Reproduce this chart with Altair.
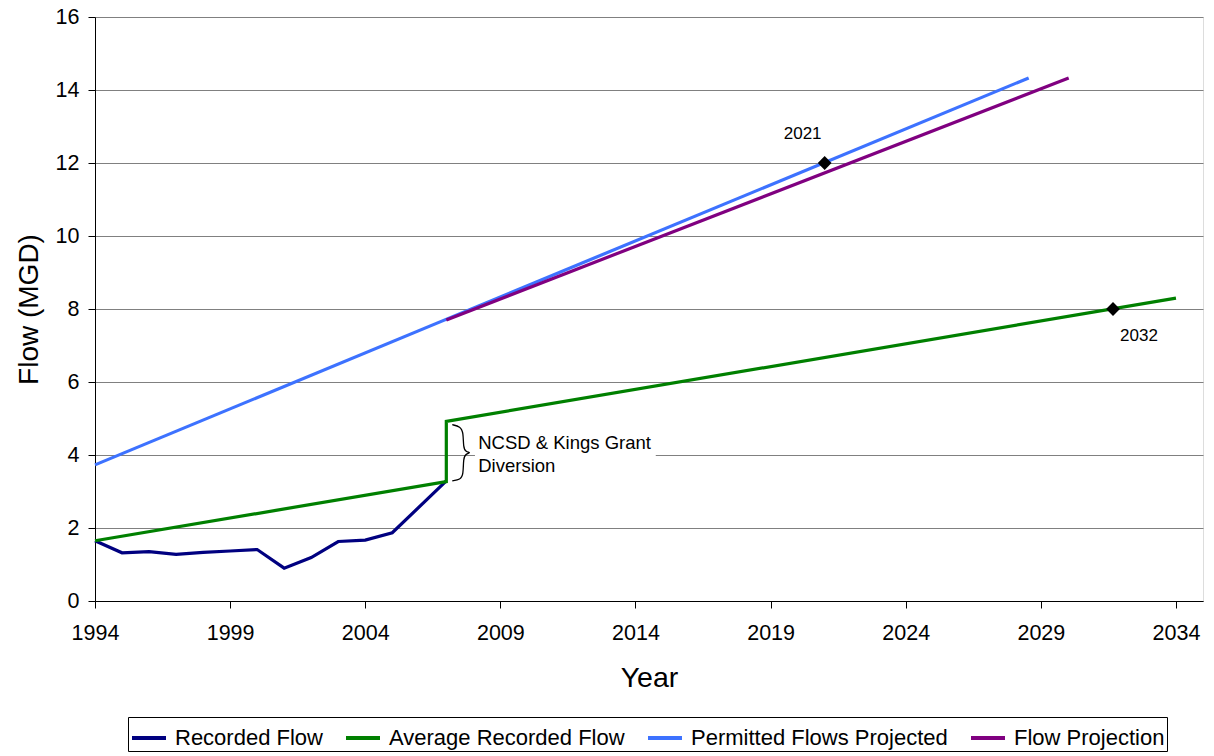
import altair as alt
import pandas as pd

# ---- data ----
rec_years = [1994, 1995, 1996, 1997, 1998, 1999, 2000, 2001, 2002, 2003, 2004, 2005, 2007]
rec_flow = [1.65, 1.32, 1.35, 1.28, 1.33, 1.37, 1.41, 0.90, 1.19, 1.63, 1.67, 1.87, 3.29]

avg_years = [1994, 2007, 2007, 2034]
avg_flow = [1.65, 3.27, 4.92, 8.30]

perm_years = [1994, 2028.55]
perm_flow = [3.73, 14.33]

proj_years = [2007, 2030.03]
proj_flow = [7.70, 14.33]

series_names = ["Recorded Flow", "Average Recorded Flow", "Permitted Flows Projected", "Flow Projection"]
series_colors = ["#000080", "#008000", "#3D72FF", "#800080"]

marker_years = [2021, 2031.67]
marker_flow = [12.0, 8.0]
marker_labels = ["2021", "2032"]
marker_dx = [-22, 26]
marker_dy = [-29, 27]

note_lines = ["NCSD & Kings Grant", "Diversion"]
note_x = [2008.18, 2008.18]
note_y = [4.32, 3.70]

brace_x = [2007.22, 2007.52, 2007.63, 2007.63, 2007.72, 2007.92, 2007.72, 2007.63, 2007.63, 2007.52, 2007.22]
brace_y = [4.83, 4.78, 4.62, 4.20, 4.09, 4.06, 4.03, 3.92, 3.45, 3.33, 3.29]

x_ticks = [1994, 1999, 2004, 2009, 2014, 2019, 2024, 2029, 2034]
y_ticks = [0, 2, 4, 6, 8, 10, 12, 14, 16]

# ---- tables ----
rows = []
for name, xs, ys in [
    (series_names[0], rec_years, rec_flow),
    (series_names[1], avg_years, avg_flow),
    (series_names[2], perm_years, perm_flow),
    (series_names[3], proj_years, proj_flow),
]:
    for i, (xv, yv) in enumerate(zip(xs, ys)):
        rows.append({"series": name, "year": xv, "flow": yv, "idx": i})
lines_df = pd.DataFrame(rows)

markers_df = pd.DataFrame({"year": marker_years, "flow": marker_flow,
                           "label": marker_labels, "dx": marker_dx, "dy": marker_dy})
note_df = pd.DataFrame({"year": note_x, "flow": note_y, "text": note_lines})
brace_df = pd.DataFrame({"year": brace_x, "flow": brace_y, "idx": list(range(len(brace_x)))})
box_df = pd.DataFrame({"x1": [2008.06], "x2": [2014.75], "y1": [3.62], "y2": [4.45]})

FONT = "Liberation Sans"
xscale = alt.Scale(domain=[1994, 2035], nice=False, zero=False)
yscale = alt.Scale(domain=[0, 16], nice=False)

x_enc = alt.X("year:Q", scale=xscale,
              axis=alt.Axis(title="Year", values=x_ticks, format="d", grid=False,
                            labelFontSize=21.5, titleFontSize=28.5, titleFontWeight="normal",
                            labelFont=FONT, titleFont=FONT, labelColor="black", titleColor="black",
                            domainColor="black", tickColor="black", tickSize=7,
                            labelPadding=14, titlePadding=20, labelFlush=False))
y_enc = alt.Y("flow:Q", scale=yscale,
              axis=alt.Axis(title="Flow (MGD)", values=y_ticks, grid=True,
                            gridColor="#808080", gridWidth=1.2,
                            labelFontSize=21.5, titleFontSize=28, titleFontWeight="normal",
                            labelFont=FONT, titleFont=FONT, labelColor="black", titleColor="black",
                            domainColor="black", tickColor="black", tickSize=7,
                            labelPadding=9, titlePadding=12))

lines = alt.Chart(lines_df).mark_line(strokeWidth=3.2).encode(
    x=x_enc,
    y=y_enc,
    color=alt.Color("series:N",
                    scale=alt.Scale(domain=series_names, range=series_colors),
                    sort=series_names,
                    legend=alt.Legend(title=None, orient="none", direction="horizontal",
                                      legendX=33, legendY=700,
                                      symbolType="stroke", symbolSize=1156, symbolStrokeWidth=4,
                                      labelFontSize=22, labelFont=FONT, labelColor="black",
                                      labelOffset=7, columnPadding=15, columns=4, labelLimit=1000,
                                      strokeColor="black", fillColor="white", padding=2)),
    detail="series:N",
    order="idx:Q",
)

box = alt.Chart(box_df).mark_rect(color="white").encode(
    x="x1:Q", x2="x2:Q", y="y1:Q", y2="y2:Q")

brace = alt.Chart(brace_df).mark_line(color="black", strokeWidth=1.3, interpolate="basis").encode(
    x=alt.X("year:Q", scale=xscale), y=alt.Y("flow:Q", scale=yscale), order="idx:Q")

note = alt.Chart(note_df).mark_text(align="left", baseline="middle", fontSize=18.5,
                                    font=FONT, color="black").encode(
    x=alt.X("year:Q", scale=xscale), y=alt.Y("flow:Q", scale=yscale), text="text:N")

points = alt.Chart(markers_df).mark_point(shape="diamond", filled=True, color="black",
                                          size=190, opacity=1).encode(
    x=alt.X("year:Q", scale=xscale), y=alt.Y("flow:Q", scale=yscale))

labels = []
for i in range(len(marker_labels)):
    labels.append(
        alt.Chart(markers_df.iloc[[i]]).mark_text(fontSize=17, font=FONT, color="black",
                                                 dx=marker_dx[i], dy=marker_dy[i]).encode(
            x=alt.X("year:Q", scale=xscale), y=alt.Y("flow:Q", scale=yscale), text="label:N")
    )

chart = alt.layer(box, lines, brace, note, points, *labels).properties(
    width=1108, height=584,
    autosize=alt.AutoSizeParams(type="none"),
    padding={"left": 95, "top": 17, "right": 11, "bottom": 155},
).configure_view(stroke=None).configure(background="white")

chart.save("out.html", embed_options={"renderer": "svg", "actions": False})
